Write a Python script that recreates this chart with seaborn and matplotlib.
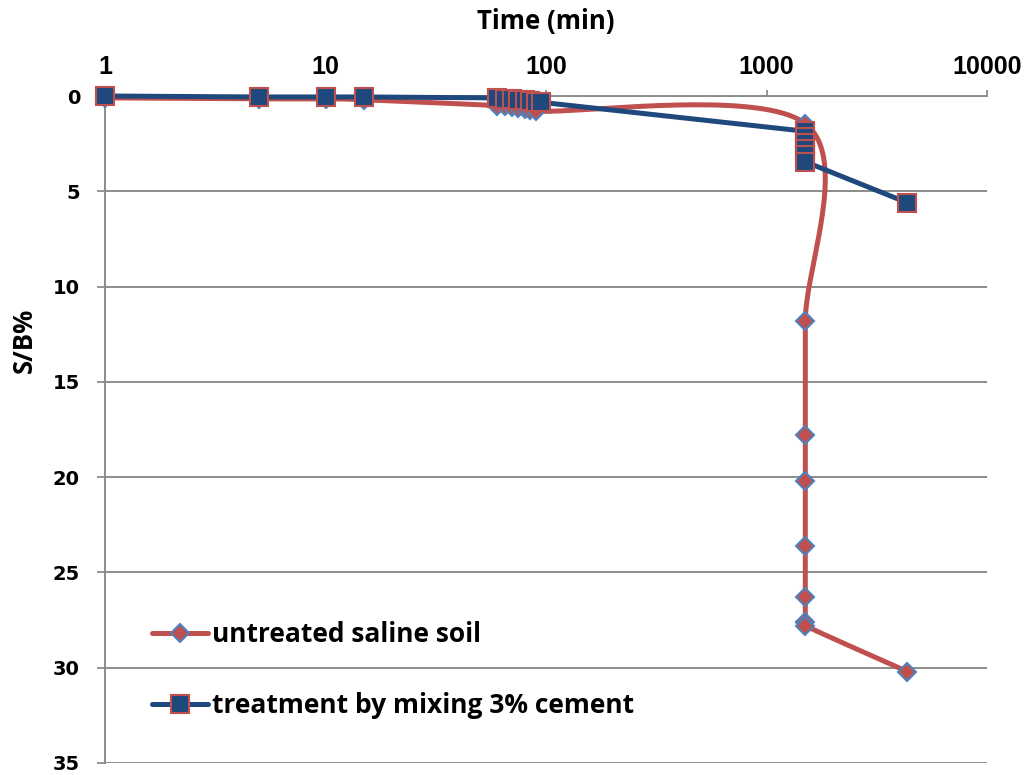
import numpy as np
import matplotlib
matplotlib.use("Agg")
import matplotlib.pyplot as plt
from matplotlib.lines import Line2D
from matplotlib.ticker import FixedLocator, FixedFormatter, NullLocator
import seaborn as sns

# ---------------- data ----------------
untreated_time = [1, 5, 10, 15, 60, 65, 70, 75, 80, 85, 90,
                  1500, 1500, 1500, 1500, 1500, 1500, 1500, 1500, 4350]
untreated_sb = [0.1, 0.15, 0.15, 0.2, 0.5, 0.55, 0.6, 0.65, 0.7, 0.75, 0.8,
                1.45, 11.8, 17.8, 20.2, 23.6, 26.3, 27.6, 27.8, 30.2]

treated_time = [1, 5, 10, 15, 60, 65, 70, 75, 80, 85, 90, 95,
                1500, 1500, 1500, 1500, 1500, 1500, 4350]
treated_sb = [0.0, 0.05, 0.05, 0.05, 0.1, 0.15, 0.18, 0.2, 0.23, 0.26, 0.3, 0.33,
              1.85, 2.15, 2.45, 2.8, 3.1, 3.45, 5.6]

x_ticks = [1, 10, 100, 1000, 10000]
x_tick_labels = ["1", "10", "100", "1000", "10000"]
y_ticks = [0, 5, 10, 15, 20, 25, 30, 35]
y_tick_labels = [str(v) for v in y_ticks]

label_untreated = "untreated saline soil"
label_treated = "treatment by mixing 3% cement"
x_title = "Time (min)"
y_title = "S/B%"

# ---------------- style ----------------
RED = "#C0504D"
LIGHTBLUE = "#4F81BD"
NAVY = "#1F497D"
GRID = "#8C8C8C"

sns.set_theme(style="white")
plt.rcParams["font.family"] = ["Open Sans", "DejaVu Sans"]
plt.rcParams["text.color"] = "black"

fig = plt.figure(figsize=(10.29, 7.75), dpi=100)
ax = fig.add_axes([105 / 1029, 1 - 763 / 775, 882 / 1029, 667 / 775])

ax.set_xscale("log")
ax.set_xlim(1, 10000)
ax.set_ylim(35, 0)


def excel_smooth(axis, xs, ys, n=40):
    """Catmull-Rom style Bezier smoothing in display space (like Excel's smoothed line)."""
    pts = axis.transData.transform(np.column_stack([xs, ys]))
    P = np.vstack([pts[0], pts, pts[-1]])
    segs = []
    t = np.linspace(0, 1, n)[:, None]
    for i in range(1, len(P) - 2):
        p0, p1, p2, p3 = P[i - 1], P[i], P[i + 1], P[i + 2]
        c1 = p1 + (p2 - p0) / 6.0
        c2 = p2 - (p3 - p1) / 6.0
        seg = ((1 - t) ** 3) * p1 + 3 * ((1 - t) ** 2) * t * c1 + 3 * (1 - t) * t ** 2 * c2 + t ** 3 * p2
        segs.append(seg)
    curve = np.vstack(segs)
    return axis.transData.inverted().transform(curve)


curve = excel_smooth(ax, untreated_time, untreated_sb)

sns.lineplot(x=curve[:, 0], y=curve[:, 1], sort=False, estimator=None, ax=ax,
             color=RED, linewidth=3.6, zorder=3, clip_on=False, legend=False)
ax.plot(untreated_time, untreated_sb, linestyle="none", marker="D", markersize=9.5,
        markerfacecolor=RED, markeredgecolor=LIGHTBLUE, markeredgewidth=1.5,
        zorder=4, clip_on=False)

sns.lineplot(x=treated_time, y=treated_sb, sort=False, estimator=None, ax=ax,
             color=NAVY, linewidth=3.6, zorder=5, clip_on=False, legend=False)
ax.plot(treated_time, treated_sb, linestyle="none", marker="s", markersize=13,
        markerfacecolor=NAVY, markeredgecolor=RED, markeredgewidth=1.5,
        zorder=6, clip_on=False)

ax.set_xlim(1, 10000)
ax.set_ylim(35, 0)

# axes / ticks
ax.xaxis.tick_top()
ax.xaxis.set_label_position("top")
ax.xaxis.set_major_locator(FixedLocator(x_ticks))
ax.xaxis.set_major_formatter(FixedFormatter(x_tick_labels))
ax.xaxis.set_minor_locator(NullLocator())
ax.yaxis.set_major_locator(FixedLocator(y_ticks))
ax.yaxis.set_major_formatter(FixedFormatter(y_tick_labels))

ax.tick_params(axis="x", which="major", direction="out", length=4.5, width=1.3,
               color=GRID, labelcolor="black", pad=8, top=True, bottom=False,
               labeltop=True, labelbottom=False)
ax.tick_params(axis="y", which="major", direction="out", length=6, width=1.3,
               color=GRID, labelcolor="black", pad=12, left=True)

for lab in ax.get_xticklabels():
    lab.set_fontfamily("Liberation Sans")
    lab.set_fontweight("bold")
    lab.set_fontsize(18)
for lab in ax.get_yticklabels():
    lab.set_fontfamily("DejaVu Sans")
    lab.set_fontweight("bold")
    lab.set_fontsize(14)

ax.grid(axis="y", color=GRID, linewidth=1.4)
ax.grid(axis="x", visible=False)
ax.set_axisbelow(True)

for side in ["right", "bottom"]:
    ax.spines[side].set_visible(False)
for side in ["top", "left"]:
    ax.spines[side].set_color(GRID)
    ax.spines[side].set_linewidth(1.4)

ax.set_xlabel(x_title, fontsize=18.5, fontweight="bold", color="black")
ax.xaxis.set_label_coords(0.5, 1.112)
ax.xaxis.label.set_va("center")
ax.set_ylabel(y_title, fontsize=18.5, fontweight="bold", color="black")
ax.yaxis.set_label_coords(-0.091, 0.634)
ax.yaxis.label.set_va("center")

handles = [
    Line2D([], [], color=RED, linewidth=3.6, marker="D", markersize=9.5,
           markerfacecolor=RED, markeredgecolor=LIGHTBLUE, markeredgewidth=1.5),
    Line2D([], [], color=NAVY, linewidth=3.6, marker="s", markersize=13,
           markerfacecolor=NAVY, markeredgecolor=RED, markeredgewidth=1.5),
]
leg = ax.legend(handles, [label_untreated, label_treated], loc="upper left",
                bbox_to_anchor=(0.053, 0.2123), borderaxespad=0, borderpad=0,
                frameon=False, handlelength=2.12, handletextpad=0.15,
                labelspacing=1.67, prop={"family": "Open Sans", "weight": "bold", "size": 19})
for txt in leg.get_texts():
    txt.set_color("black")

fig.savefig("out.png", dpi=100)
